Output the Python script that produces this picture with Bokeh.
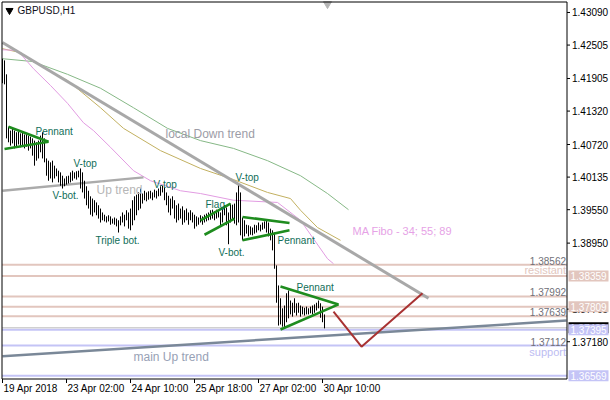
from bokeh.plotting import figure
from bokeh.models import Range1d
from bokeh.core.properties import value
from bokeh.embed import file_html
from bokeh.resources import INLINE

FONT = value("Liberation Sans")

symbol = "GBPUSD,H1"

bar_high = [1.4226, 1.4223, 1.4198, 1.4104, 1.4097, 1.4101, 1.4097, 1.4094, 1.4095, 1.4092,
            1.4094, 1.4090, 1.4092, 1.4088, 1.4086, 1.4083, 1.4079, 1.4076, 1.4079, 1.4088,
            1.4094, 1.4083, 1.4047, 1.4043, 1.4040, 1.4043, 1.4034, 1.4029, 1.4025, 1.4022,
            1.4016, 1.4011, 1.4015, 1.4016, 1.4022, 1.4025, 1.4022, 1.4024, 1.4025, 1.4029,
            1.4022, 1.4007, 1.3997, 1.3989, 1.3979, 1.3975, 1.3972, 1.3968, 1.3963, 1.3957,
            1.3950, 1.3946, 1.3943, 1.3945, 1.3943, 1.3939, 1.3941, 1.3939, 1.3936, 1.3943,
            1.3950, 1.3946, 1.3954, 1.3950, 1.3957, 1.3972, 1.3979, 1.3982, 1.3986, 1.3993,
            1.3984, 1.3989, 1.3986, 1.3988, 1.3989, 1.3986, 1.3991, 1.3989, 1.3993, 1.3997,
            1.3998, 1.3995, 1.3986, 1.3980, 1.3975, 1.3979, 1.3972, 1.3963, 1.3966, 1.3957,
            1.3961, 1.3954, 1.3957, 1.3950, 1.3954, 1.3950, 1.3946, 1.3943, 1.3941, 1.3945,
            1.3943, 1.3946, 1.3948, 1.3950, 1.3954, 1.3955, 1.3952, 1.3955, 1.3954, 1.3950,
            1.3959, 1.3963, 1.3959, 1.3950, 1.3966, 1.3964, 1.3966, 1.3986, 1.3998, 1.3986,
            1.3941, 1.3936, 1.3928, 1.3927, 1.3925, 1.3923, 1.3928, 1.3927, 1.3932, 1.3928,
            1.3932, 1.3934, 1.3936, 1.3932, 1.3921, 1.3918, 1.3914, 1.3855, 1.3819, 1.3796,
            1.3778, 1.3783, 1.3805, 1.3810, 1.3792, 1.3788, 1.3796, 1.3787, 1.3788, 1.3783,
            1.3781, 1.3779, 1.3781, 1.3778, 1.3781, 1.3783, 1.3785, 1.3788, 1.3792, 1.3787,
            1.3781, 1.3767]

bar_low = [1.4182, 1.4180, 1.4083, 1.4076, 1.4070, 1.4074, 1.4065, 1.4068, 1.4072, 1.4067,
           1.4070, 1.4065, 1.4068, 1.4061, 1.4065, 1.4052, 1.4034, 1.4043, 1.4047, 1.4058,
           1.4047, 1.4040, 1.4016, 1.4007, 1.4011, 1.4004, 1.4011, 1.4015, 1.4004, 1.3998,
           1.3993, 1.3997, 1.4000, 1.4002, 1.4004, 1.4007, 1.4011, 1.4009, 1.4013, 1.3993,
           1.3986, 1.3975, 1.3963, 1.3957, 1.3946, 1.3943, 1.3950, 1.3945, 1.3939, 1.3932,
           1.3936, 1.3934, 1.3932, 1.3934, 1.3928, 1.3930, 1.3928, 1.3925, 1.3914, 1.3927,
           1.3932, 1.3925, 1.3936, 1.3921, 1.3918, 1.3927, 1.3936, 1.3945, 1.3954, 1.3957,
           1.3966, 1.3972, 1.3970, 1.3973, 1.3975, 1.3972, 1.3977, 1.3975, 1.3979, 1.3980,
           1.3986, 1.3972, 1.3963, 1.3950, 1.3945, 1.3957, 1.3939, 1.3932, 1.3936, 1.3939,
           1.3928, 1.3932, 1.3936, 1.3928, 1.3936, 1.3932, 1.3921, 1.3925, 1.3928, 1.3932,
           1.3928, 1.3932, 1.3934, 1.3936, 1.3937, 1.3939, 1.3936, 1.3939, 1.3941, 1.3927,
           1.3932, 1.3945, 1.3927, 1.3893, 1.3932, 1.3936, 1.3930, 1.3927, 1.3932, 1.3909,
           1.3900, 1.3907, 1.3912, 1.3907, 1.3910, 1.3909, 1.3912, 1.3914, 1.3918, 1.3916,
           1.3919, 1.3921, 1.3914, 1.3907, 1.3900, 1.3882, 1.3849, 1.3788, 1.3747, 1.3749,
           1.3745, 1.3744, 1.3753, 1.3760, 1.3767, 1.3763, 1.3770, 1.3765, 1.3770, 1.3763,
           1.3767, 1.3765, 1.3767, 1.3767, 1.3769, 1.3767, 1.3770, 1.3774, 1.3778, 1.3761,
           1.3753, 1.3742]

bar_index = list(range(len(bar_high)))

time_ticks = [0, 32, 64, 96, 128, 160]
time_labels = ["19 Apr 2018", "23 Apr 02:00", "24 Apr 10:00", "25 Apr 18:00", "27 Apr 02:00", "30 Apr 10:00"]

price_ticks = [1.43090, 1.42505, 1.41905, 1.41320, 1.40720, 1.40135, 1.39550, 1.38950, 1.37765, 1.37180]

resistance_levels = [1.38562, 1.38359, 1.37992, 1.37809, 1.37639]
support_levels = [1.37395, 1.37112, 1.36569]
bid_price = 1.37430
boxed_resistance = [1.38359, 1.37809]
boxed_support = [1.37395, 1.36569]
level_value_labels = [1.38562, 1.37992, 1.37639, 1.37112]

# moving averages (MA Fibo 34; 55; 89)
ma34_x = [0, 7.5, 15.5, 24, 32.5, 40.5, 45.5, 54, 65.5, 74, 89, 99, 115.5, 137.5, 149, 162.5, 165.5]
ma34_y = [1.4242, 1.4241, 1.4208, 1.4178, 1.4146, 1.4111, 1.4097, 1.4067, 1.4025, 1.4007,
          1.3989, 1.3984, 1.3972, 1.3968, 1.3936, 1.3867, 1.3858]
ma55_x = [0, 9, 20.5, 32.5, 49, 60.5, 79, 99, 115.5, 132.5, 144, 149, 157.5, 169]
ma55_y = [1.4244, 1.4237, 1.4210, 1.4187, 1.4138, 1.4101, 1.4061, 1.4029, 1.4009, 1.3986,
          1.3975, 1.3954, 1.3923, 1.3900]
ma89_x = [0, 15, 32.5, 49, 65.5, 82.5, 99, 115.5, 132.5, 149, 162.5, 173]
ma89_y = [1.4226, 1.4221, 1.4198, 1.4173, 1.4138, 1.4101, 1.4079, 1.4065, 1.4043, 1.4016,
          1.3984, 1.3955]

# trend lines
down_trend_x = [0, 213]
down_trend_y = [1.4255, 1.3796]
up_trend_x = [0, 70.5]
up_trend_y = [1.3989, 1.4013]
main_up_x = [0, 282]
main_up_y = [1.3692, 1.3756]

# chart patterns
pattern_xs = [[3, 23], [1, 23], [99, 114], [101, 116], [120, 143.5], [120, 143.5], [139, 168], [139, 168]]
pattern_ys = [[1.4104, 1.4077], [1.4064, 1.4077], [1.3936, 1.3966], [1.3910, 1.3939],
              [1.3942, 1.3931], [1.3900, 1.3918], [1.3817, 1.3785], [1.3740, 1.3785]]

forecast_x = [165.5, 179.5, 210]
forecast_y = [1.3772, 1.3709, 1.3805]

pattern_label_text = ["Pennant", "V-top", "V-bot.", "Triple bot.", "V-top", "Flag", "V-top", "V-bot.", "Pennant", "Pennant"]
pattern_label_x = [16.5, 35.5, 25, 46.5, 75.5, 101.5, 116.5, 108, 137.5, 147]
pattern_label_y = [1.4095, 1.4038, 1.3980, 1.3900, 1.4000, 1.3965, 1.4013, 1.3879, 1.3900, 1.3815]

# ---- layout: chart area + price scale column + time strip, all inside one frame
W, H = 610, 394
DX = 0.5            # bars (data units) per px
DY = 0.0001795      # price per px
XR0 = -1.0          # x at left page edge
PRICE_TOP = 1.43305 # price at top page edge
X_START, X_END = XR0 + 1.5 * DX, XR0 + 566.5 * DX
Y_END, Y_START = PRICE_TOP - 1.5 * DY, PRICE_TOP - 378.5 * DY

p = figure(width=W, height=H, output_backend="svg", toolbar_location=None,
           x_range=Range1d(XR0, XR0 + W * DX),
           y_range=Range1d(PRICE_TOP - H * DY, PRICE_TOP),
           x_axis_location=None, y_axis_location=None)
p.min_border = 0
p.min_border_left = 0
p.min_border_right = 0
p.min_border_top = 0
p.min_border_bottom = 0
p.outline_line_color = None
p.xgrid.visible = False
p.ygrid.visible = False
p.background_fill_color = "white"
p.border_fill_color = "white"

# horizontal levels
for lv in resistance_levels:
    p.line([X_START, X_END], [lv, lv], line_color="#E2C6BE", line_width=2)
for lv in support_levels:
    p.line([X_START, X_END], [lv, lv], line_color="#C4C4F6", line_width=2)
p.line([X_START, X_END], [bid_price, bid_price], line_color="#BDBDBD", line_width=1)

# moving averages
p.line(ma89_x, ma89_y, line_color="#86B886", line_width=1)
p.line(ma55_x, ma55_y, line_color="#C2B060", line_width=1)
p.line(ma34_x, ma34_y, line_color="#E29CE2", line_width=1)

# trend lines
p.line(down_trend_x, down_trend_y, line_color="#A8A8A8", line_width=3)
p.line(up_trend_x, up_trend_y, line_color="#ABABAB", line_width=2.5)
p.line(main_up_x, main_up_y, line_color="#7A8898", line_width=2.5)

# bars
p.segment(x0=bar_index, y0=bar_low, x1=bar_index, y1=bar_high, line_color="black", line_width=1)

# patterns
p.multi_line(pattern_xs, pattern_ys, line_color="#1E8C1E", line_width=2.6)
p.line(forecast_x, forecast_y, line_color="#A83232", line_width=2)

# pattern labels
p.text(x=pattern_label_x, y=pattern_label_y, text=pattern_label_text, text_font=FONT,
       text_font_size="10px", text_color="#0F6E58", text_baseline="middle", text_align="left")

# trend labels
p.text(x=[81.5], y=[1.4090], text=["local Down trend"], text_font=FONT, text_font_size="12px",
       text_color="#9C9CA6", text_baseline="middle", text_align="left")
p.text(x=[47], y=[1.3991], text=["Up trend"], text_font=FONT, text_font_size="12px",
       text_color="#B6B6B6", text_baseline="middle", text_align="left")
p.text(x=[65.5], y=[1.3690], text=["main Up trend"], text_font=FONT, text_font_size="12px",
       text_color="#97A1B5", text_baseline="middle", text_align="left")
p.text(x=[175], y=[1.3916], text=["MA Fibo - 34; 55; 89"], text_font=FONT, text_font_size="11px",
       text_color="#E6A2E6", text_baseline="middle", text_align="left")

# level value labels inside the chart
p.text(x=[X_END - DX] * len(level_value_labels), y=level_value_labels,
       text=[f"{v:.5f}" for v in level_value_labels], text_font=FONT, text_font_size="10px",
       text_color="#707078", text_baseline="bottom", text_align="right")
p.text(x=[X_END - DX], y=[boxed_resistance[0]], text=["resistant"], text_font=FONT, text_font_size="11px",
       text_color="#E2C6BE", text_baseline="bottom", text_align="right")
p.text(x=[X_END - DX], y=[support_levels[1]], text=["support"], text_font=FONT, text_font_size="11px",
       text_color="#BCBCF2", text_baseline="top", text_align="right")

# symbol header and chart shift marker
p.scatter(x=[3.5], y=[PRICE_TOP - 10 * DY], marker="inverted_triangle", size=7, color="black")
p.text(x=[7.5], y=[PRICE_TOP - 10 * DY], text=[symbol], text_font=FONT, text_font_size="10px",
       text_color="#10101A", text_baseline="middle", text_align="left")
p.scatter(x=[162.5], y=[PRICE_TOP - 3.5 * DY], marker="inverted_triangle", size=8, color="#B4B4B4")

# chart frame
p.line([X_START, X_START], [Y_START, Y_END], line_color="black", line_width=1)
p.line([X_START, X_END], [Y_END, Y_END], line_color="black", line_width=1)
p.line([X_END, X_END], [Y_START, Y_END], line_color="black", line_width=1)
p.line([X_START, X_END], [Y_START, Y_START], line_color="black", line_width=1)

# price scale: ticks and labels
p.segment(x0=[X_END] * len(price_ticks), y0=price_ticks, x1=[X_END + 3 * DX] * len(price_ticks),
          y1=price_ticks, line_color="black", line_width=1)
p.text(x=[X_END + 5 * DX] * len(price_ticks), y=price_ticks, text=[f"{t:.5f}" for t in price_ticks],
       text_font=FONT, text_font_size="10px", text_color="black", text_baseline="middle", text_align="left")

# bid label (mostly hidden) and boxed level labels
BOX_L, BOX_R, BOX_HALF = X_END + 1.5 * DX, X_END + 41.5 * DX, 5.5 * DY
p.quad(left=[BOX_L], right=[BOX_R], top=[bid_price + BOX_HALF], bottom=[bid_price - BOX_HALF],
       fill_color="black", line_color=None)
p.text(x=[X_END + 3 * DX], y=[bid_price], text=[f"{bid_price:.5f}"], text_font=FONT,
       text_font_size="10px", text_color="white", text_baseline="middle", text_align="left")
for levels, col in ((boxed_resistance, "#E2C6BE"), (boxed_support, "#C4C4F6")):
    p.quad(left=[BOX_L] * len(levels), right=[BOX_R] * len(levels),
           top=[lv + BOX_HALF for lv in levels], bottom=[lv - BOX_HALF for lv in levels],
           fill_color=col, line_color=None)
    p.text(x=[X_END + 3.5 * DX] * len(levels), y=levels, text=[f"{lv:.5f}" for lv in levels],
           text_font=FONT, text_font_size="10px", text_color="white",
           text_baseline="middle", text_align="left")

# time scale: ticks and labels, left-aligned at their ticks
p.segment(x0=time_ticks, y0=[Y_START] * len(time_ticks), x1=time_ticks,
          y1=[Y_START - 4 * DY] * len(time_ticks), line_color="black", line_width=1)
p.text(x=[t + DX for t in time_ticks], y=[Y_START - 4 * DY] * len(time_ticks), text=time_labels,
       text_font=FONT, text_font_size="10px", text_color="black", text_baseline="top", text_align="left")

open("out.html", "w").write(file_html(p, INLINE))
